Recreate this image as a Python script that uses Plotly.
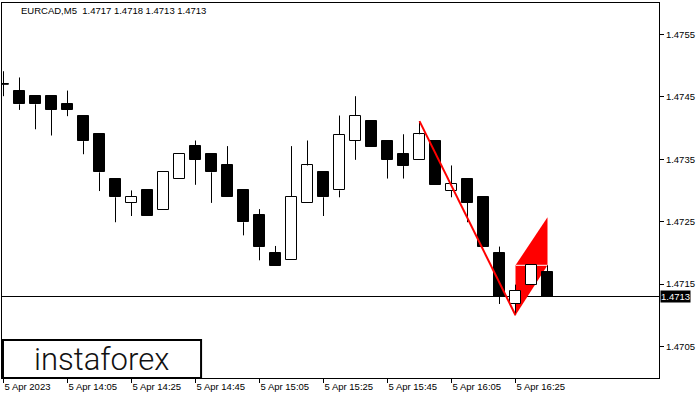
import plotly.graph_objects as go

# ---- data ----
times = ["13:45", "13:50", "13:55", "14:00", "14:05", "14:10", "14:15", "14:20",
         "14:25", "14:30", "14:35", "14:40", "14:45", "14:50", "14:55", "15:00",
         "15:05", "15:10", "15:15", "15:20", "15:25", "15:30", "15:35", "15:40",
         "15:45", "15:50", "15:55", "16:00", "16:05", "16:10", "16:15", "16:20",
         "16:25", "16:30", "16:35"]
opens = [1.47470, 1.47460, 1.47451, 1.47451, 1.47439, 1.47420, 1.47390, 1.47319,
         1.47280, 1.47300, 1.47269, 1.47319, 1.47371, 1.47359, 1.47340, 1.47300,
         1.47260, 1.47199, 1.47189, 1.47280, 1.47330, 1.47300, 1.47380, 1.47411,
         1.47380, 1.47359, 1.47349, 1.47380, 1.47299, 1.47319, 1.47290, 1.47199,
         1.47118, 1.47149, 1.47170]
highs = [1.47491, 1.47481, 1.47451, 1.47451, 1.47460, 1.47420, 1.47390, 1.47319,
         1.47300, 1.47300, 1.47330, 1.47359, 1.47380, 1.47359, 1.47371, 1.47300,
         1.47270, 1.47211, 1.47371, 1.47380, 1.47330, 1.47420, 1.47451, 1.47411,
         1.47380, 1.47390, 1.47411, 1.47380, 1.47340, 1.47319, 1.47290, 1.47210,
         1.47149, 1.47180, 1.47180]
lows = [1.47451, 1.47429, 1.47398, 1.47388, 1.47419, 1.47358, 1.47299, 1.47249,
        1.47259, 1.47259, 1.47269, 1.47319, 1.47309, 1.47280, 1.47289, 1.47228,
        1.47188, 1.47179, 1.47189, 1.47280, 1.47259, 1.47289, 1.47349, 1.47369,
        1.47319, 1.47319, 1.47349, 1.47309, 1.47289, 1.47249, 1.47209, 1.47118,
        1.47100, 1.47149, 1.47130]
closes = [1.47470, 1.47438, 1.47438, 1.47429, 1.47429, 1.47379, 1.47329, 1.47289,
          1.47290, 1.47259, 1.47330, 1.47359, 1.47349, 1.47329, 1.47289, 1.47249,
          1.47209, 1.47179, 1.47290, 1.47340, 1.47289, 1.47389, 1.47420, 1.47369,
          1.47349, 1.47339, 1.47390, 1.47309, 1.47310, 1.47280, 1.47209, 1.47130,
          1.47139, 1.47180, 1.47130]

tick_times = ["13:45", "14:05", "14:25", "14:45", "15:05", "15:25", "15:45", "16:05", "16:25"]
tick_labels = ["5 Apr 2023", "5 Apr 14:05", "5 Apr 14:25", "5 Apr 14:45", "5 Apr 15:05",
               "5 Apr 15:25", "5 Apr 15:45", "5 Apr 16:05", "5 Apr 16:25"]
price_ticks = [1.4705, 1.4715, 1.4725, 1.4735, 1.4745, 1.4755]
price_labels = ["1.4705", "1.4715", "1.4725", "1.4735", "1.4745", "1.4755"]

current_price = 1.4713
header = "EURCAD,M5  1.4717 1.4718 1.4713 1.4713"

# flag pattern (time, price)
pole_times = ["15:55", "16:25"]
pole_prices = [1.47411, 1.47100]
flag_times = ["16:25", "16:35", "16:35", "16:25"]
flag_prices = [1.47100, 1.47180, 1.47257, 1.47180]
flag_mid_times = ["16:25", "16:35"]
flag_mid_prices = [1.47180, 1.47180]

# ---- build ----
idx = list(range(len(times)))
pos = {t: i for i, t in enumerate(times)}
BODY_W = 0.64

bases, heights, fills = [], [], []
wx, wy = [], []
for i in idx:
    o, h, l, c = opens[i], highs[i], lows[i], closes[i]
    top, bot = max(o, c), min(o, c)
    bases.append(bot)
    heights.append(top - bot)
    fills.append("white" if c > o else "black")
    if h > top:
        wx += [i, i, None]; wy += [top, h, None]
    if l < bot:
        wx += [i, i, None]; wy += [bot, l, None]
    if top == bot:
        wx += [i - BODY_W / 2, i + BODY_W / 2, None]; wy += [o, o, None]

fig = go.Figure()
fig.add_trace(go.Bar(x=idx, y=heights, base=bases, width=BODY_W,
                     marker=dict(color=fills, line=dict(color="black", width=1)),
                     hoverinfo="skip"))
fig.add_trace(go.Scatter(x=wx, y=wy, mode="lines",
                         line=dict(color="black", width=1), hoverinfo="skip"))
fig.add_trace(go.Scatter(x=[pos[t] for t in pole_times], y=pole_prices, mode="lines",
                         line=dict(color="#FF0000", width=2), hoverinfo="skip"))

# flag fill below candles
path = "M " + " L ".join(f"{pos[t]},{p}" for t, p in zip(flag_times, flag_prices)) + " Z"
fig.add_shape(type="path", path=path, xref="x", yref="y", fillcolor="#FF0000",
              line=dict(width=0), layer="below")
fig.add_shape(type="line", xref="x", yref="y",
              x0=pos[flag_mid_times[0]], x1=pos[flag_mid_times[1]],
              y0=flag_mid_prices[0], y1=flag_mid_prices[1],
              line=dict(color="white", width=1), layer="below")
# current price line
fig.add_shape(type="line", xref="paper", yref="y", x0=0, x1=1,
              y0=current_price, y1=current_price,
              line=dict(color="black", width=1), layer="below")

FONT = "Liberation Sans, Arial, sans-serif"
FS = 9.5

fig.update_layout(
    width=700, height=400,
    margin=dict(l=2, r=41, t=3, b=22),
    plot_bgcolor="white", paper_bgcolor="white",
    showlegend=False, bargap=0,
    font=dict(family=FONT, size=FS, color="black"),
    xaxis=dict(range=[-0.09375, 40.96875], showgrid=False, zeroline=False,
               showline=True, mirror=True, linecolor="black", linewidth=1,
               ticks="outside", ticklen=4, tickcolor="black", tickwidth=1,
               tickvals=[pos[t] for t in tick_times], ticktext=tick_labels,
               ticklabelposition="outside right",
               tickfont=dict(family=FONT, size=FS, color="black")),
    yaxis=dict(range=[1.4699939, 1.4760035], side="right", showgrid=False,
               zeroline=False, showline=True, mirror=True, linecolor="black",
               linewidth=1, ticks="outside", ticklen=4, tickcolor="black",
               tickwidth=1, tickvals=price_ticks, ticktext=price_labels,
               tickfont=dict(family=FONT, size=FS, color="black")),
)

# header text
fig.add_annotation(text=header, xref="paper", yref="paper", x=0.026, y=0.98,
                   xanchor="left", yanchor="middle", showarrow=False,
                   font=dict(family=FONT, size=FS, color="black"))
# current price label on the axis
fig.add_annotation(text=str(current_price), xref="paper", yref="y", x=1,
                   y=current_price, xanchor="left", yanchor="middle", xshift=1,
                   showarrow=False, bgcolor="black", borderpad=0,
                   font=dict(family=FONT, size=FS, color="white"))
# logo box
fig.add_shape(type="rect", xref="paper", yref="paper", x0=0.0015, x1=0.303,
              y0=0.0, y1=0.1013, fillcolor="white",
              line=dict(color="black", width=2), layer="above")
fig.add_annotation(text="instaforex", xref="paper", yref="paper", x=0.1507, y=0.05,
                   xanchor="center", yanchor="middle", showarrow=False,
                   font=dict(family="Roboto, sans-serif", size=31, color="#111111",
                             weight=300))

fig.write_html("out.html", config={"displayModeBar": False},
               post_script="document.body.style.margin='0';")
